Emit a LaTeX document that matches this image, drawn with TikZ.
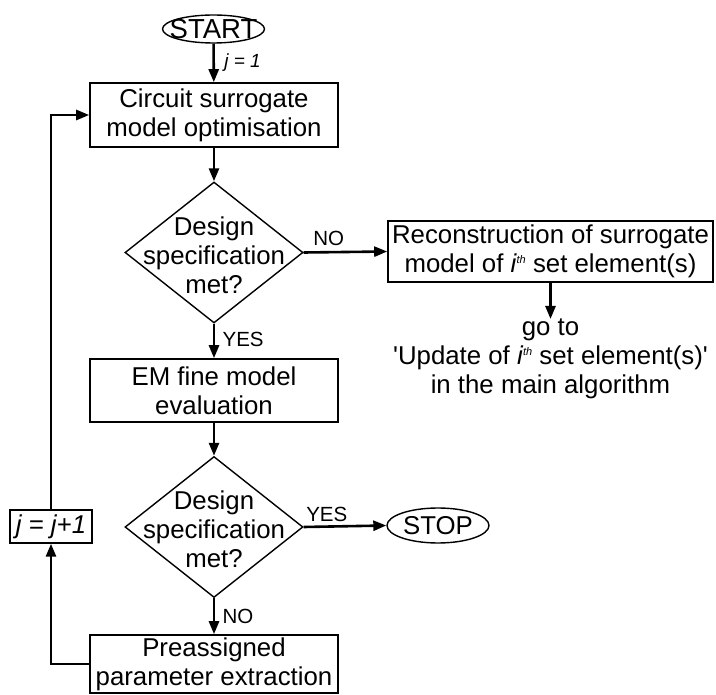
\documentclass[tikz,border=0pt]{standalone}
\usepackage{fontspec}
\setmainfont{Liberation Sans}[Ligatures=TeXOff]
\usetikzlibrary{shapes.geometric,arrows.meta}
% italic index with a small superscript "th"
\newcommand{\ith}{\textit{i}\kern-0.3pt\raisebox{9pt}{\fontsize{11}{11}\selectfont\itshape th}}

\begin{document}
\begin{tikzpicture}[x=1pt,y=-1pt,
  bigtext/.style={font=\fontsize{25.8}{29}\selectfont},
  smalltext/.style={font=\fontsize{20.5}{24}\selectfont},
  procbox/.style={draw, line width=1.6pt, inner sep=0pt, align=center, bigtext},
  decision/.style={draw, diamond, line width=1.4pt, inner sep=0pt, minimum width=178pt, minimum height=141pt},
  terminal/.style={draw, ellipse, line width=1.4pt, inner sep=0pt},
  flow/.style={line width=2.6pt, -{Triangle[length=13pt,width=10pt]}},
]
\useasboundingbox (0,0) rectangle (716,695);

% main column
\node[terminal, minimum width=102pt, minimum height=28pt,
      label={[font=\fontsize{27.5}{30}\selectfont]center:START}] (start) at (213.5,29) {};
\node[procbox, minimum width=248pt, minimum height=64pt] (opt) at (214,115)
  {Circuit surrogate\\model optimisation};
\node[decision] (d1) at (214,252.5) {};
\node[align=center, bigtext] (d1t) at (214,255) {Design\\specification\\met?};
\node[procbox, minimum width=248pt, minimum height=63pt] (em) at (214,390.5)
  {EM fine model\\evaluation};
\node[decision] (d2) at (214,527) {};
\node[align=center, bigtext] (d2t) at (214,529.5) {Design\\specification\\met?};
\node[procbox, minimum width=248pt, minimum height=58pt] (pe) at (214,664)
  {Preassigned\\parameter extraction};

% right branch
\node[procbox, minimum width=325pt, minimum height=61pt] (rc) at (550.5,251.5)
  {Reconstruction of surrogate\\model of \ith\ set element(s)};
\node[align=center, bigtext, inner sep=0pt, anchor=north] (goto) at (550.5,319)
  {go to\\'Update of \ith\ set element(s)'\\in the main algorithm};
\node[terminal, minimum width=102pt, minimum height=35pt,
      label={[bigtext]center:STOP}] (stop) at (438,525.5) {};

% loop counter
\node[draw, line width=1.4pt, minimum width=82pt, minimum height=33pt, inner sep=0pt,
      bigtext] (inc) at (51,526.5) {\textit{j = j+1}};

% connectors
\draw[flow] (start) -- (opt) node[midway, right=6pt, font=\fontsize{19}{22}\selectfont] {\textit{j = 1}};
\draw[flow] (opt) -- (d1);
\draw[flow] (d1.east) -- (rc.west) node[pos=0.3, above=2pt, smalltext] {NO};
\draw[flow] (rc.south -| goto.north) -- (goto.north);
\draw[flow] (d1) -- (em) node[pos=0.45, right=4pt, smalltext] {YES};
\draw[flow] (em) -- (d2);
\draw[flow] (d2.east) -- (stop.west) node[pos=0.28, above=0pt, smalltext] {YES};
\draw[flow] (d2) -- (pe) node[midway, right=4pt, smalltext] {NO};
\draw[flow] (pe.west) -| (inc.south);
\draw[flow] (inc.north) |- (opt.west);
\end{tikzpicture}
\end{document}
